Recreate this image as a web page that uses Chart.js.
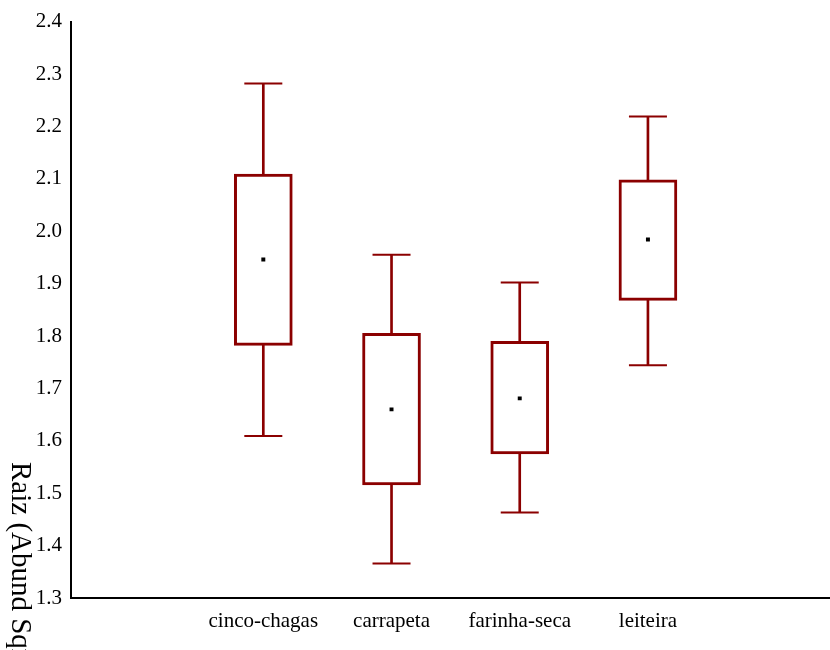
<!DOCTYPE html>
<html>
<head>
<meta charset="utf-8">
<script src="https://cdn.jsdelivr.net/npm/chart.js@4.4.1/dist/chart.umd.min.js"></script>
<style>
html,body{margin:0;padding:0;background:#fff;}
#wrap{width:830px;height:650px;position:relative;}
</style>
</head>
<body>
<div id="wrap"><canvas id="c" width="830" height="650"></canvas></div>
<script>
const categories = ["cinco-chagas", "carrapeta", "farinha-seca", "leiteira"];
const positions = [1.5, 2.5, 3.5, 4.5];
const whiskerLow = [1.609, 1.366, 1.463, 1.744];
const q1 = [1.782, 1.516, 1.575, 1.868];
const q3 = [2.109, 1.805, 1.790, 2.098];
const whiskerHigh = [2.282, 1.955, 1.902, 2.219];
const means = [1.946, 1.660, 1.681, 1.984];
const yTicks = [1.3, 1.4, 1.5, 1.6, 1.7, 1.8, 1.9, 2.0, 2.1, 2.2, 2.3, 2.4];
const yTitle = "Raiz (Abund Sqrt)";

const RED = "#8b0000";
const SERIF = "'Liberation Serif','DejaVu Serif',serif";

const boxData = positions.map((x, i) => ({x: x, y: [q1[i], q3[i]]}));
const upperWhisker = positions.map((x, i) => ({x: x, y: [q3[i], whiskerHigh[i]]}));
const lowerWhisker = positions.map((x, i) => ({x: x, y: [whiskerLow[i], q1[i]]}));
const capData = positions.flatMap((x, i) => [{x: x, y: whiskerHigh[i]}, {x: x, y: whiskerLow[i]}]);
const meanData = positions.map((x, i) => ({x: x, y: means[i]}));

const titlePlugin = {
  id: 'yTitleRot',
  afterDraw(chart) {
    const ctx = chart.ctx;
    ctx.save();
    ctx.translate(12, 462);
    ctx.rotate(Math.PI / 2);
    ctx.font = "29px " + SERIF;
    ctx.fillStyle = "#000";
    ctx.textAlign = "left";
    ctx.textBaseline = "alphabetic";
    ctx.fillText(yTitle, 0, 0);
    ctx.restore();
  }
};

new Chart(document.getElementById('c'), {
  type: 'bar',
  data: {
    datasets: [
      {type: 'bar', data: upperWhisker, backgroundColor: RED, borderWidth: 0, barThickness: 2, grouped: false, order: 3},
      {type: 'bar', data: lowerWhisker, backgroundColor: RED, borderWidth: 0, barThickness: 2, grouped: false, order: 3},
      {type: 'bar', data: boxData, backgroundColor: '#ffffff', borderColor: RED, borderWidth: 3, borderSkipped: false, barThickness: 58, grouped: false, order: 2},
      {type: 'scatter', data: capData, pointStyle: 'line', radius: 19, borderColor: RED, borderWidth: 2, order: 1},
      {type: 'scatter', data: meanData, pointStyle: 'rect', radius: 2.8, backgroundColor: '#000', borderColor: '#000', borderWidth: 0, order: 0}
    ]
  },
  options: {
    responsive: false,
    animation: false,
    events: [],
    layout: {autoPadding: false, padding: {top: 19, right: 0, bottom: 0, left: 0}},
    plugins: {legend: {display: false}, tooltip: {enabled: false}},
    scales: {
      x: {
        type: 'linear',
        offset: false,
        min: 0,
        max: 5.92,
        grid: {display: false, drawTicks: false},
        border: {display: true, color: '#000', width: 2},
        afterBuildTicks(scale) { scale.ticks = positions.map(v => ({value: v})); },
        afterFit(scale) { scale.height = 52; },
        ticks: {
          autoSkip: false,
          maxRotation: 0,
          padding: 11,
          color: '#000',
          font: {family: SERIF, size: 21},
          callback(value) { const i = positions.indexOf(value); return i >= 0 ? categories[i] : ''; }
        }
      },
      y: {
        type: 'linear',
        min: 1.3,
        max: 2.4,
        grid: {display: false, drawTicks: false},
        border: {display: true, color: '#000', width: 2},
        afterBuildTicks(scale) { scale.ticks = yTicks.map(v => ({value: v})); },
        afterFit(scale) { scale.width = 71; },
        ticks: {
          padding: 9,
          color: '#000',
          font: {family: SERIF, size: 21},
          callback(value) { return Number(value).toFixed(1); }
        }
      }
    }
  },
  plugins: [titlePlugin]
});
</script>
</body>
</html>
